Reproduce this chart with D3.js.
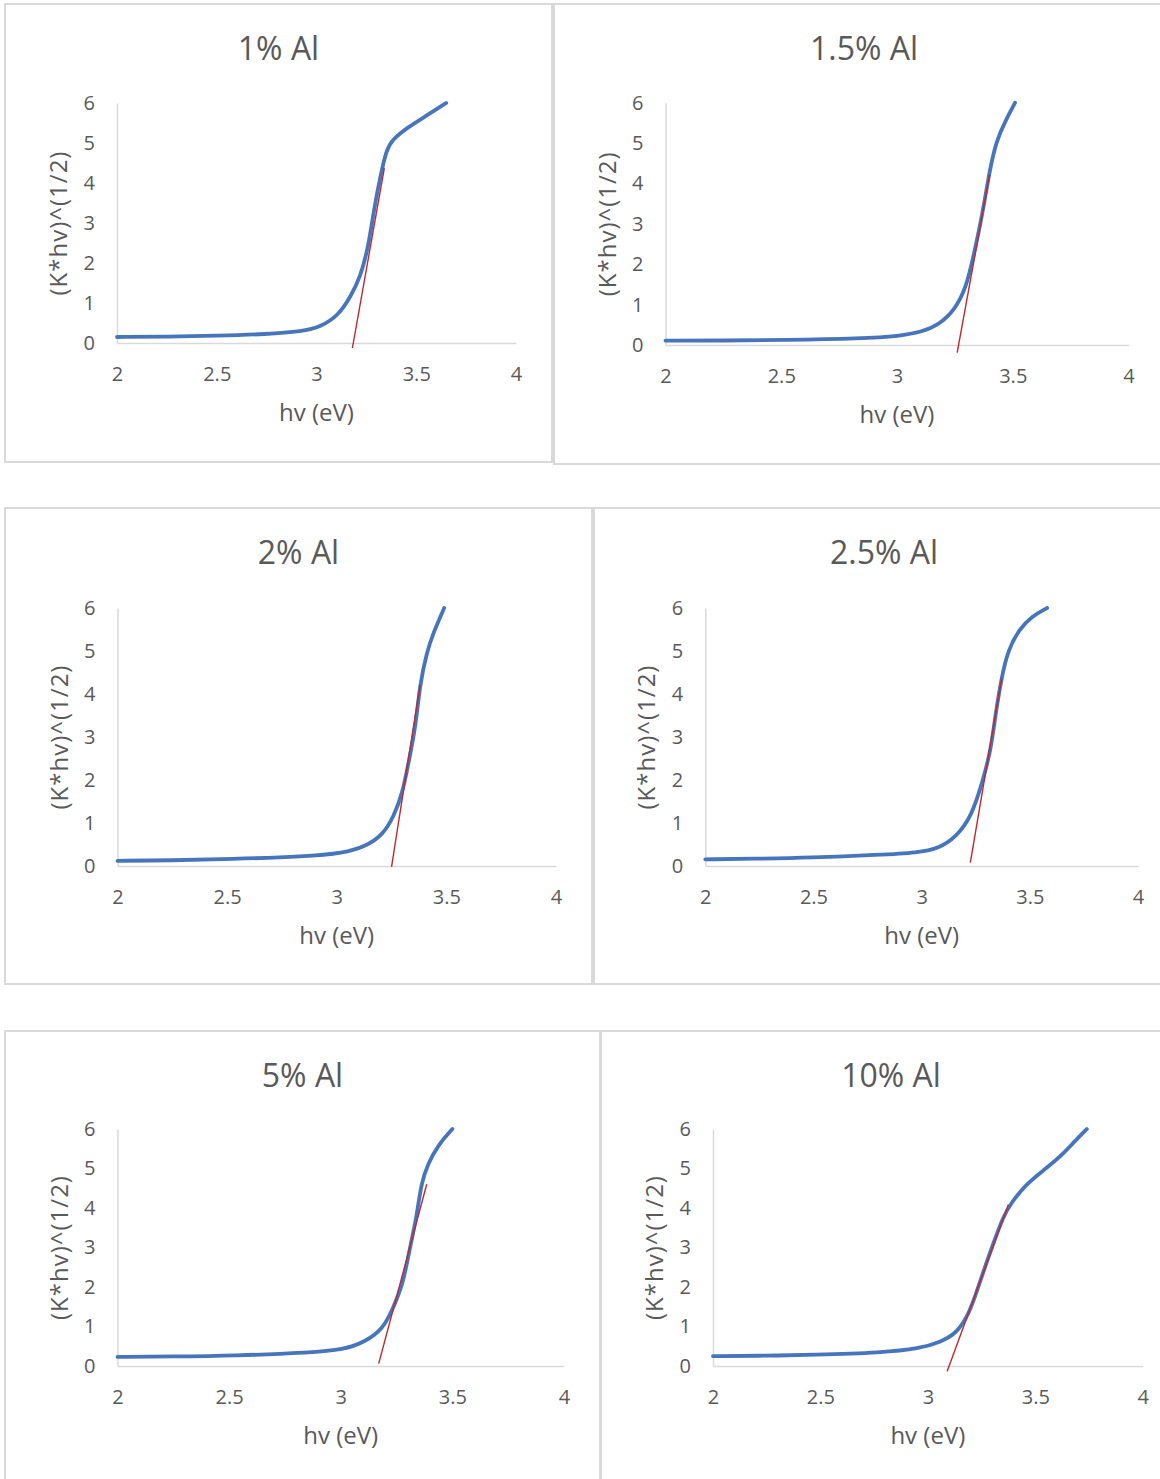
<!DOCTYPE html>
<html>
<head>
<meta charset="utf-8">
<script src="https://cdn.jsdelivr.net/npm/d3@7"></script>
<style>
  body { margin: 0; background: #fff; }
  text { font-family: "Open Sans", sans-serif; fill: #595959; }
</style>
</head>
<body>
<script>
var width = 1160, height = 1479;

// chart data
var titles = ["1% Al", "1.5% Al", "2% Al", "2.5% Al", "5% Al", "10% Al"];
var xTicks = [2, 2.5, 3, 3.5, 4];
var yTicks = [0, 1, 2, 3, 4, 5, 6];

var hv1 = [2.0, 2.25, 2.5, 2.75, 2.93, 3.02, 3.11, 3.17, 3.22, 3.26, 3.29, 3.32, 3.35, 3.38, 3.45, 3.56, 3.65];
var k1  = [0.15, 0.16, 0.18, 0.22, 0.29, 0.40, 0.69, 1.15, 1.65, 2.4, 3.4, 4.16, 4.83, 5.08, 5.37, 5.71, 6.0];
var hv2 = [2.0, 2.25, 2.51, 2.85, 3.01, 3.11, 3.18, 3.25, 3.30, 3.33, 3.37, 3.40, 3.43, 3.47, 3.51];
var k2  = [0.11, 0.11, 0.12, 0.16, 0.22, 0.33, 0.50, 0.87, 1.44, 2.19, 3.26, 4.33, 5.07, 5.57, 6.0];
var hv3 = [2.0, 2.25, 2.51, 2.86, 3.03, 3.13, 3.21, 3.26, 3.30, 3.33, 3.36, 3.38, 3.41, 3.44, 3.49];
var k3  = [0.12, 0.13, 0.16, 0.22, 0.30, 0.45, 0.72, 1.15, 1.69, 2.47, 3.25, 4.25, 4.95, 5.42, 6.0];
var hv4 = [2.0, 2.25, 2.48, 2.81, 2.98, 3.08, 3.16, 3.23, 3.28, 3.32, 3.34, 3.37, 3.40, 3.45, 3.51, 3.58];
var k4  = [0.155, 0.17, 0.19, 0.26, 0.31, 0.41, 0.68, 1.15, 1.93, 2.70, 3.48, 4.41, 5.03, 5.5, 5.81, 6.0];
var hv5 = [2.0, 2.25, 2.52, 2.87, 3.01, 3.11, 3.19, 3.23, 3.28, 3.31, 3.34, 3.36, 3.39, 3.44, 3.50];
var k5  = [0.23, 0.24, 0.26, 0.34, 0.41, 0.61, 0.95, 1.41, 2.08, 3.01, 3.77, 4.62, 5.12, 5.63, 6.0];
var hv6 = [2.0, 2.25, 2.46, 2.79, 2.96, 3.06, 3.13, 3.18, 3.22, 3.26, 3.31, 3.35, 3.39, 3.46, 3.55, 3.63, 3.68, 3.74];
var k6  = [0.25, 0.26, 0.28, 0.34, 0.44, 0.61, 0.82, 1.2, 1.75, 2.42, 3.18, 3.77, 4.15, 4.62, 5.0, 5.37, 5.67, 6.0];

// red tangent (linear fit) lines: hv ends and K ends
var fitHv = [[3.18, 3.34], [3.26, 3.40], [3.25, 3.38], [3.225, 3.37], [3.17, 3.385], [3.09, 3.375]];
var fitK  = [[-0.125, 4.37], [-0.19, 4.21], [-0.02, 4.22], [0.08, 4.37], [0.06, 4.6], [-0.13, 4.09]];

var seriesHv = [hv1, hv2, hv3, hv4, hv5, hv6];
var seriesK = [k1, k2, k3, k4, k5, k6];

// panel boxes and plot areas (page pixels)
var panels = [
  {box: [5, 4, 547, 458],    px: [117, 516],     py: [343, 103]},
  {box: [554, 4, 620, 460],  px: [665.5, 1128.5], py: [345, 102.7]},
  {box: [5, 508, 587, 476],  px: [117.5, 556],   py: [866, 608]},
  {box: [594, 508, 580, 476], px: [705.3, 1138], py: [866, 608]},
  {box: [5, 1031, 595, 470], px: [117.5, 564],   py: [1366, 1129]},
  {box: [601, 1031, 580, 470], px: [713, 1142.7], py: [1366, 1129]}
];

var svg = d3.select("body").append("svg")
  .attr("width", width)
  .attr("height", height);

panels.forEach(function(p, i) {
  var g = svg.append("g");

  g.append("rect")
    .attr("x", p.box[0]).attr("y", p.box[1])
    .attr("width", p.box[2]).attr("height", p.box[3])
    .attr("fill", "#fff")
    .attr("stroke", "#d9d9d9")
    .attr("stroke-width", 2);

  var x = d3.scaleLinear().domain([2, 4]).range(p.px);
  var y = d3.scaleLinear().domain([0, 6]).range(p.py);

  // title
  g.append("text")
    .attr("x", p.box[0] + p.box[2] / 2)
    .attr("y", p.box[1] + 56)
    .attr("text-anchor", "middle")
    .style("font-size", "32px")
    .text(titles[i]);

  var xAxis = g.append("g")
    .attr("transform", "translate(0," + y(0) + ")")
    .call(d3.axisBottom(x).tickValues(xTicks).tickSize(0).tickPadding(24).tickFormat(d3.format("")));
  var yAxis = g.append("g")
    .attr("transform", "translate(" + x(2) + ",0)")
    .call(d3.axisLeft(y).tickValues(yTicks).tickSize(0).tickPadding(22).tickFormat(d3.format("")));

  [xAxis, yAxis].forEach(function(a) {
    a.select(".domain").attr("stroke", "#d9d9d9").attr("stroke-width", 1.5);
    a.selectAll("text")
      .style("font-size", "20px")
      .style("font-family", "'Open Sans', sans-serif")
      .attr("fill", "#595959");
  });

  // axis titles
  g.append("text")
    .attr("x", (p.px[0] + p.px[1]) / 2)
    .attr("y", y(0) + 78)
    .attr("text-anchor", "middle")
    .style("font-size", "24px")
    .text("hv (eV)");

  g.append("text")
    .attr("transform", "translate(" + (x(2) - 50) + "," + ((p.py[0] + p.py[1]) / 2) + ")rotate(-90)")
    .attr("text-anchor", "middle")
    .style("font-size", "24px")
    .style("letter-spacing", "1px")
    .text("(K*hv)^(1/2)");

  // data curve
  var pts = seriesHv[i].map(function(v, j) { return [v, seriesK[i][j]]; });
  var line = d3.line()
    .x(function(d) { return x(d[0]); })
    .y(function(d) { return y(d[1]); })
    .curve(d3.curveBasis);

  g.append("path")
    .datum(pts)
    .attr("d", line)
    .attr("fill", "none")
    .attr("stroke", "#4675bd")
    .attr("stroke-width", 3.8)
    .attr("stroke-linecap", "round")
    .attr("stroke-linejoin", "round");

  // fit line
  var fit = fitHv[i].map(function(v, j) { return [v, fitK[i][j]]; });
  g.append("path")
    .datum(fit)
    .attr("d", d3.line().x(function(d) { return x(d[0]); }).y(function(d) { return y(d[1]); }))
    .attr("fill", "none")
    .attr("stroke", "#c0282d")
    .attr("stroke-width", 1.4);
});
</script>
</body>
</html>
